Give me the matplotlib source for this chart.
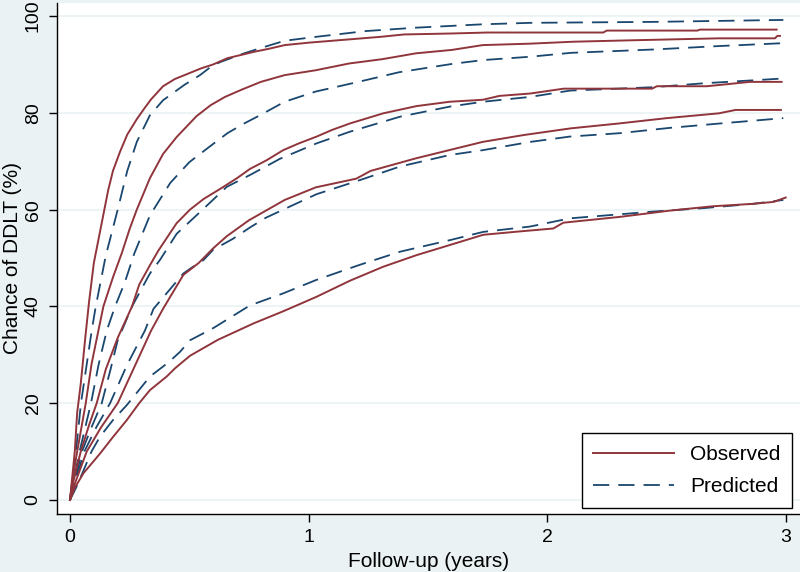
import matplotlib
matplotlib.use("Agg")
import matplotlib.pyplot as plt

plt.rcParams['font.family'] = ['Liberation Sans', 'DejaVu Sans']

# Observed (Kaplan-Meier style) curves: years, chance %
obs_t = [
    [0, 0.01, 0.02, 0.03, 0.045, 0.065, 0.08, 0.1, 0.12, 0.14, 0.16, 0.18, 0.21, 0.24,
     0.28, 0.31, 0.34, 0.39, 0.44, 0.49, 0.55, 0.6, 0.66, 0.72, 0.77, 0.83, 0.9, 1.0,
     1.1, 1.2, 1.3, 1.4, 1.6, 1.75, 2.0, 2.235, 2.25, 2.45, 2.63, 2.64, 2.962],
    [0, 0.01, 0.03, 0.066, 0.09, 0.119, 0.14, 0.18, 0.217, 0.25, 0.28, 0.335, 0.39,
     0.447, 0.53, 0.59, 0.65, 0.72, 0.8, 0.9, 1.03, 1.17, 1.31, 1.45, 1.6, 1.73, 1.93,
     2.11, 2.36, 2.72, 2.955, 2.965, 2.976],
    [0, 0.01, 0.045, 0.08, 0.112, 0.15, 0.2, 0.26, 0.29, 0.335, 0.37, 0.447, 0.503,
     0.56, 0.63, 0.7, 0.754, 0.824, 0.894, 0.96, 1.034, 1.1, 1.173, 1.313, 1.453, 1.593,
     1.73, 1.8, 1.93, 2.07, 2.44, 2.46, 2.67, 2.85, 2.983],
    [0, 0.01, 0.07, 0.13, 0.2, 0.27, 0.34, 0.39, 0.475, 0.54, 0.6, 0.657, 0.75, 0.8,
     0.9, 1.03, 1.2, 1.26, 1.45, 1.59, 1.73, 1.9, 2.1, 2.3, 2.5, 2.72, 2.79, 2.98],
    [0, 0.02, 0.056, 0.126, 0.18, 0.238, 0.29, 0.335, 0.405, 0.44, 0.503, 0.62, 0.77,
     0.894, 1.034, 1.173, 1.313, 1.453, 1.593, 1.732, 1.886, 2.026, 2.068, 2.305, 2.515,
     2.696, 2.864, 2.95, 3.0],
]
obs_v = [
    [0, 5, 10, 18, 24, 34, 41, 49, 54, 59, 64, 68, 72, 75.5, 78.7, 80.8, 82.8, 85.5, 87,
     88, 89.2, 90, 91.3, 92, 92.6, 93.2, 94, 94.5, 94.9, 95.3, 95.7, 96.2, 96.4, 96.6,
     96.6, 96.6, 97.0, 97.0, 97.0, 97.2, 97.2],
    [0, 4, 10, 20, 28, 35, 40, 46, 51, 56, 60, 66.5, 71.5, 75, 79.3, 81.6, 83.3, 84.8, 86.4,
     87.8, 88.8, 90.2, 91.1, 92.3, 93, 94, 94.3, 94.7, 95, 95.4, 95.4, 95.9, 95.9],
    [0, 3, 10, 15.5, 20, 27, 33.5, 40, 44.5, 48.5, 51.5, 57.2, 60, 62.2, 64.3, 66.5,
     68.4, 70.2, 72.3, 73.7, 75.1, 76.5, 77.8, 79.9, 81.4, 82.3, 82.7, 83.5, 84, 85, 85,
     85.5, 85.5, 86.4, 86.4],
    [0, 2, 10, 15, 20, 27.5, 35, 39.5, 46.5, 49, 52, 54.5, 57.8, 59.2, 62, 64.6, 66.4,
     68, 70.6, 72.3, 74, 75.4, 76.8, 77.8, 78.9, 79.9, 80.6, 80.6],
    [0, 2.5, 5.5, 9.6, 13, 16.5, 20, 22.7, 25.5, 27.2, 29.8, 33.1, 36.5, 39, 42, 45.3,
     48.2, 50.6, 52.7, 54.8, 55.5, 56.1, 57.3, 58.5, 59.8, 60.7, 61.2, 61.6, 62.5],
]

# Predicted curves
pred_t = [
    [0, 0.01, 0.025, 0.046, 0.07, 0.091, 0.108, 0.15, 0.2, 0.24, 0.28, 0.335, 0.39, 0.48,
     0.545, 0.59, 0.63, 0.73, 0.8, 0.9, 1.03, 1.24, 1.45, 1.73, 1.93, 2.45, 2.99],
    [0, 0.02, 0.04, 0.088, 0.12, 0.154, 0.189, 0.23, 0.27, 0.335, 0.42, 0.5, 0.59, 0.66,
     0.73, 0.8, 0.9, 1.03, 1.2, 1.38, 1.6, 1.73, 1.93, 2.1, 2.45, 2.72, 2.99],
    [0, 0.02, 0.05, 0.09, 0.133, 0.17, 0.2, 0.26, 0.335, 0.377, 0.447, 0.545, 0.657,
     0.76, 0.88, 1.034, 1.173, 1.383, 1.593, 1.732, 1.93, 2.096, 2.445, 2.654, 2.99],
    [0, 0.02, 0.06, 0.11, 0.168, 0.24, 0.314, 0.35, 0.41, 0.475, 0.51, 0.56, 0.6, 0.684,
     0.754, 0.82, 0.92, 1.034, 1.215, 1.383, 1.593, 1.732, 1.93, 2.096, 2.305, 2.515,
     2.724, 2.99],
    [0, 0.03, 0.09, 0.126, 0.18, 0.238, 0.335, 0.412, 0.461, 0.503, 0.6, 0.754, 0.894,
     1.034, 1.215, 1.383, 1.593, 1.732, 1.928, 2.096, 2.445, 2.654, 2.864, 2.99],
]
pred_v = [
    [0, 4, 10, 20, 28, 35, 40, 50.5, 60, 68, 74, 79.5, 82.6, 85.8, 87.8, 89.5, 90.5,
     92.3, 93.4, 94.9, 95.7, 96.9, 97.6, 98.3, 98.6, 98.8, 99.2],
    [0, 5, 10, 20, 28, 35, 40, 45, 51, 58.8, 65.5, 69.8, 73.2, 75.8, 77.8, 79.6, 82.3,
     84.4, 86.3, 88.4, 90.1, 90.9, 91.6, 92.4, 93.1, 93.8, 94.4],
    [0, 4, 10, 15, 20, 27, 33, 40, 46.8, 49.6, 55, 59.5, 64.7, 67.3, 70.5, 73.7, 76.1,
     79.2, 81.3, 82.3, 83.3, 84.6, 85.3, 86.1, 87.1],
    [0, 3.5, 10, 15, 20, 28, 35, 39.5, 43, 46.8, 48, 49.6, 51.7, 54, 56.3, 58.3, 60.6,
     63.2, 66.1, 68.9, 71.3, 72.3, 74, 75.1, 75.8, 76.9, 77.8, 78.9],
    [0, 3, 10, 13.1, 16.5, 19.6, 25.5, 28.4, 30.6, 33.0, 35.5, 40.2, 42.7, 45.5, 48.6,
     51.3, 53.7, 55.4, 56.5, 58.2, 59.6, 60.3, 61.2, 62.0],
]

x_ticks = [0, 1, 2, 3]
y_ticks = [0, 20, 40, 60, 80, 100]

BG = "#EAF2F3"
RED = "#90353B"
NAVY = "#1A476F"

fig = plt.figure(figsize=(8, 5.72), dpi=100, facecolor=BG)
ax = fig.add_axes([57 / 800, 1 - 514 / 572, 743 / 800, 511 / 572])
ax.set_facecolor("white")

for y in y_ticks:
    ax.axhline(y, color=BG, lw=1.2, zorder=0)

for i, (t, v) in enumerate(zip(pred_t, pred_v)):
    ax.plot(t, v, color=NAVY, lw=1.3, dashes=(9, 5),
            label="Predicted" if i == 0 else None, zorder=2)
for i, (t, v) in enumerate(zip(obs_t, obs_v)):
    ax.plot(t, v, color=RED, lw=1.4,
            label="Observed" if i == 0 else None, zorder=3)

ax.set_xlim(-0.0545, 3.06)
ax.set_ylim(-2.9, 102.7)
ax.set_xticks(x_ticks)
ax.set_yticks(y_ticks)
ax.tick_params(axis="both", direction="out", length=6, width=1, color="black",
               labelsize=14, pad=5)
for lab in ax.get_yticklabels():
    lab.set_rotation(90)
    lab.set_va("center")

for side in ("top", "right"):
    ax.spines[side].set_visible(False)
for side in ("left", "bottom"):
    ax.spines[side].set_linewidth(1)

ax.set_xlabel("Follow-up (years)", fontsize=15, labelpad=4)
ax.set_ylabel("Chance of DDLT (%)", fontsize=15, va="center")
ax.yaxis.set_label_coords((13 - 57) / 743, 0.5)

handles, labels = ax.get_legend_handles_labels()
order = [labels.index("Observed"), labels.index("Predicted")]
leg = ax.legend([handles[k] for k in order], [labels[k] for k in order],
                loc="lower right", bbox_to_anchor=(0.989, 0.012), borderaxespad=0,
                fontsize=15, handlelength=3.9, handletextpad=0.75, labelspacing=0.65,
                borderpad=0.55, fancybox=False, framealpha=1, edgecolor="black")
leg.get_frame().set_linewidth(1)

fig.savefig("out.png", dpi=100, facecolor=BG)
